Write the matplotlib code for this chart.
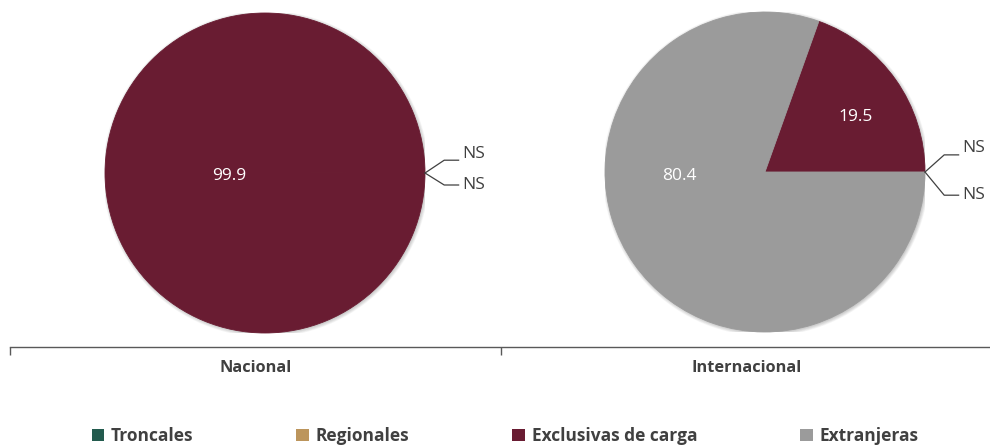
import matplotlib.pyplot as plt
from matplotlib.patches import Circle, Patch

plt.rcParams['font.family'] = ['Open Sans', 'DejaVu Sans']

# data: share of cargo by airline type (percent); NS = not significant
series = ['Troncales', 'Regionales', 'Exclusivas de carga', 'Extranjeras']
colors = ['#235B4E', '#BC955C', '#691C32', '#9B9B9B']
groups = ['Nacional', 'Internacional']
nacional = [0.01, 0.01, 99.9, 0.0]
internacional = [0.01, 0.01, 19.5, 80.4]
shown = [['NS', 'NS', '99.9', ''], ['NS', 'NS', '19.5', '80.4']]

# label placement inside the pies (axis units, radius 1)
inner_pos = [{2: (-0.225, -0.02)}, {2: (0.566, 0.346), 3: (-0.535, -0.025)}]
# leader line knees for the NS labels (upper, lower)
knees = [[(0.12, 0.08), (0.12, -0.075)], [(0.12, 0.107), (0.12, -0.145)]]

fig = plt.figure(figsize=(9.9, 4.47), dpi=100)

W, H = 990, 447
centers = [(265, 173), (765, 172)]
R = 160

for i, vals in enumerate([nacional, internacional]):
    cx, cy = centers[i]
    ax = fig.add_axes([(cx - R) / W, (H - cy - R) / H, 2 * R / W, 2 * R / H])
    ax.axis('off')

    # soft shadow under the pie
    for k in range(6):
        ax.add_patch(Circle((0.006, -0.006), 1.0 + 0.004 * k, color='#000000',
                            alpha=0.035, lw=0, zorder=0))

    wedges, _ = ax.pie(vals, colors=colors, startangle=0, counterclock=True,
                       radius=1, normalize=True,
                       wedgeprops=dict(linewidth=0))
    # big slices get an edge in their own colour so no seams show
    for w, v, c in zip(wedges, vals, colors):
        if v >= 1:
            w.set_edgecolor(c)
            w.set_linewidth(0.6)
            w.set_zorder(3)
        else:
            w.set_zorder(2)
    ax.set_xlim(-1, 1)
    ax.set_ylim(-1, 1)

    for j, pos in inner_pos[i].items():
        ax.text(pos[0], pos[1], shown[i][j], color='white', fontsize=12.5,
                ha='center', va='center', zorder=4)

    # NS labels with leader lines from the pie edge
    for n, (kx, ky) in enumerate(knees[i]):
        x0, y0 = 1.0, 0.0
        xs = [x0, x0 + kx, x0 + kx + 0.09]
        ys = [y0, ky, ky]
        ax.plot(xs, ys, color='#404040', lw=0.9, clip_on=False, zorder=4)
        ty = ky + (0.04 if n == 0 else 0.0)
        ax.text(xs[-1] + 0.02, ty, shown[i][n], fontsize=12.5, color='#404040',
                ha='left', va='center', clip_on=False)

# category axis below the pies
cax = fig.add_axes([10 / W, (H - 347) / H, 982 / W, 0.001])
cax.set_xlim(0, 2)
cax.set_ylim(0, 1)
for s in ['top', 'left', 'right']:
    cax.spines[s].set_visible(False)
cax.spines['bottom'].set_color('#595959')
cax.spines['bottom'].set_linewidth(1)
cax.set_yticks([])
cax.set_xticks([0, 1, 2])
cax.set_xticklabels([])
cax.tick_params(axis='x', which='major', length=6, color='#595959', width=1)
cax.set_xticks([0.5, 1.5], minor=True)
cax.set_xticklabels(groups, minor=True, fontsize=11.8, fontweight='bold',
                    color='#404040')
cax.tick_params(axis='x', which='minor', length=0, pad=9)

handles = [Patch(facecolor=c, edgecolor='none') for c in colors]
fig.legend(handles, series, loc='center', bbox_to_anchor=(505 / W, 11 / H),
           ncol=4, frameon=False, handlelength=0.7, handleheight=0.7,
           handletextpad=0.4, columnspacing=5.95,
           prop={'size': 12.5, 'weight': 'bold'}, labelcolor='#404040')

fig.savefig('out.png', dpi=100)
